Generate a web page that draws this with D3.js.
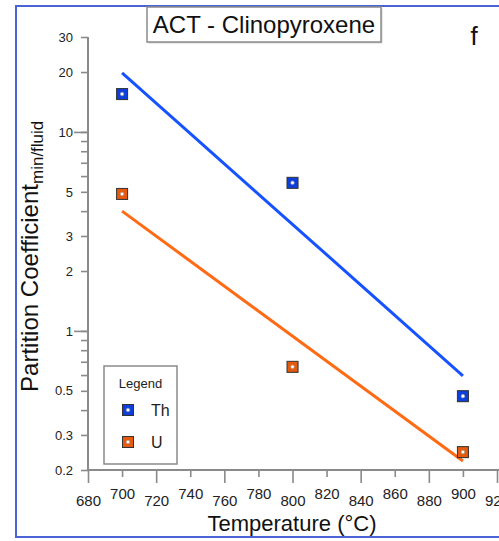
<!DOCTYPE html>
<html>
<head>
<meta charset="utf-8">
<script src="https://cdn.jsdelivr.net/npm/d3@7/dist/d3.min.js"></script>
<style>
  html, body { margin: 0; padding: 0; background: #fff; }
  svg { display: block; }
  text { font-family: "Liberation Sans", Arial, sans-serif; }
</style>
</head>
<body>
<svg id="chart" width="499" height="541"></svg>
<script>
// ---- data ----
const temperatures = [700, 800, 900];
const thValues = [15.5, 5.55, 0.47];
const uValues = [4.88, 0.66, 0.246];
const fitTemps = [700, 900];
const thFit = [19.8, 0.595];
const uFit = [4.0, 0.222];
const seriesNames = ["Th", "U"];
const seriesColors = ["#0c3fdc", "#e55a0c"];
const lineColors = ["#1652ff", "#ff6a14"];
const xTicks = [680, 700, 720, 740, 760, 780, 800, 820, 840, 860, 880, 900, 920];
const yMajorTicks = [30, 20, 10, 5, 3, 2, 1, 0.5, 0.3, 0.2];
const yDecadeTicks = [10, 1];
const yMinorTicks = [9, 8, 7, 6, 4, 0.9, 0.8, 0.7, 0.6, 0.4];
const titleText = "ACT - Clinopyroxene";
const panelLetter = "f";

const svg = d3.select("#chart");
const x = d3.scaleLinear().domain([680, 920]).range([88, 497]);
const y = d3.scaleLog().domain([0.2, 30]).range([470, 37]);

// outer frame
svg.append("rect").attr("x", 16).attr("y", 6).attr("width", 600).attr("height", 531)
  .attr("fill", "none").attr("stroke", "#4a63d6").attr("stroke-width", 2);

const axisColor = "#8a8a8a";

// y axis
const yAxis = svg.append("g").attr("transform", "translate(88,0)")
  .call(d3.axisLeft(y).tickValues(yMajorTicks).tickSize(7).tickPadding(8)
    .tickFormat(d => String(d)));
const yDec = svg.append("g").attr("transform", "translate(88,0)")
  .call(d3.axisLeft(y).tickValues(yDecadeTicks).tickSize(14).tickFormat(""));
const yMin = svg.append("g").attr("transform", "translate(88,0)")
  .call(d3.axisLeft(y).tickValues(yMinorTicks).tickSize(7).tickFormat(""));

// x axis: alternate long/short ticks with staggered labels
const xLong = xTicks.filter((d, i) => i % 2 === 0);
const xShort = xTicks.filter((d, i) => i % 2 === 1);
const xa1 = svg.append("g").attr("transform", "translate(0,470)")
  .call(d3.axisBottom(x).tickValues(xLong).tickSize(13).tickPadding(12).tickFormat(d3.format("d")));
const xa2 = svg.append("g").attr("transform", "translate(0,470)")
  .call(d3.axisBottom(x).tickValues(xShort).tickSize(7).tickPadding(11).tickFormat(d3.format("d")));

[yAxis, yDec, yMin, xa1, xa2].forEach(g => {
  g.select(".domain").remove();
  g.selectAll(".tick line").attr("stroke", axisColor).attr("stroke-width", 1.6);
});
yAxis.selectAll(".tick text").attr("font-size", 13).attr("fill", "#222")
  .attr("font-family", "Liberation Sans, Arial, sans-serif");
[xa1, xa2].forEach(g => g.selectAll(".tick text").attr("font-size", 15).attr("fill", "#222")
  .attr("font-family", "Liberation Sans, Arial, sans-serif"));

// axis lines
svg.append("line").attr("x1", 88).attr("x2", 88).attr("y1", y(30)).attr("y2", 471)
  .attr("stroke", axisColor).attr("stroke-width", 2);
svg.append("line").attr("x1", 87).attr("x2", 499).attr("y1", 470).attr("y2", 470)
  .attr("stroke", axisColor).attr("stroke-width", 2);

// fit lines
const lineGen = d3.line().x(d => x(d[0])).y(d => y(d[1]));
[thFit, uFit].forEach((fit, i) => {
  svg.append("path").datum(fitTemps.map((t, j) => [t, fit[j]]))
    .attr("d", lineGen).attr("fill", "none")
    .attr("stroke", lineColors[i]).attr("stroke-width", 3);
});

// markers
function marker(g, cx, cy, color) {
  g.append("rect").attr("x", cx - 5).attr("y", cy - 5).attr("width", 11).attr("height", 11)
    .attr("fill", "#999").attr("opacity", 0.5);
  g.append("rect").attr("x", cx - 5.5).attr("y", cy - 5.5).attr("width", 11).attr("height", 11)
    .attr("fill", color).attr("stroke", "#333").attr("stroke-width", 1);
  g.append("circle").attr("cx", cx).attr("cy", cy).attr("r", 1.8)
    .attr("fill", "#fff").attr("stroke", "#999").attr("stroke-width", 0.6);
}
[thValues, uValues].forEach((vals, i) => {
  const g = svg.append("g");
  vals.forEach((v, j) => marker(g, x(temperatures[j]), y(v), seriesColors[i]));
});

// legend
const lg = svg.append("g");
lg.append("rect").attr("x", 104).attr("y", 366).attr("width", 73).attr("height", 98)
  .attr("fill", "#fff").attr("stroke", "#8a8a8a").attr("stroke-width", 1.5);
lg.append("text").attr("x", 140.5).attr("y", 388).attr("text-anchor", "middle")
  .attr("font-size", 13).attr("fill", "#222").text("Legend");
seriesNames.forEach((name, i) => {
  const cy = 410 + i * 32;
  marker(lg, 128, cy, seriesColors[i]);
  lg.append("text").attr("x", 151).attr("y", cy + 6).attr("font-size", 16)
    .attr("fill", "#222").text(name);
});

// title box
svg.append("rect").attr("x", 148.5).attr("y", 8.5).attr("width", 234).attr("height", 35)
  .attr("fill", "#d4d4d4");
svg.append("rect").attr("x", 147).attr("y", 7).attr("width", 234).attr("height", 35)
  .attr("fill", "#fff").attr("stroke", "#8a8a8a").attr("stroke-width", 1.5);
svg.append("text").attr("x", 264).attr("y", 33).attr("text-anchor", "middle")
  .attr("font-size", 24).attr("fill", "#111").text(titleText);

// panel letter
svg.append("text").attr("x", 474).attr("y", 45).attr("text-anchor", "middle")
  .attr("font-size", 26).attr("font-family", "Open Sans, sans-serif").attr("fill", "#111")
  .text(panelLetter);

// x label
svg.append("text").attr("x", 292).attr("y", 531).attr("text-anchor", "middle")
  .attr("font-size", 22).attr("fill", "#111").text("Temperature (°C)");

// y label
const yl = svg.append("text").attr("transform", "translate(38,392) rotate(-90)")
  .attr("font-size", 24).attr("fill", "#111");
yl.append("tspan").attr("textLength", 208).attr("lengthAdjust", "spacingAndGlyphs")
  .text("Partition Coefficient");
yl.append("tspan").attr("font-size", 17).attr("dy", 5).text("min/fluid");
</script>
</body>
</html>
